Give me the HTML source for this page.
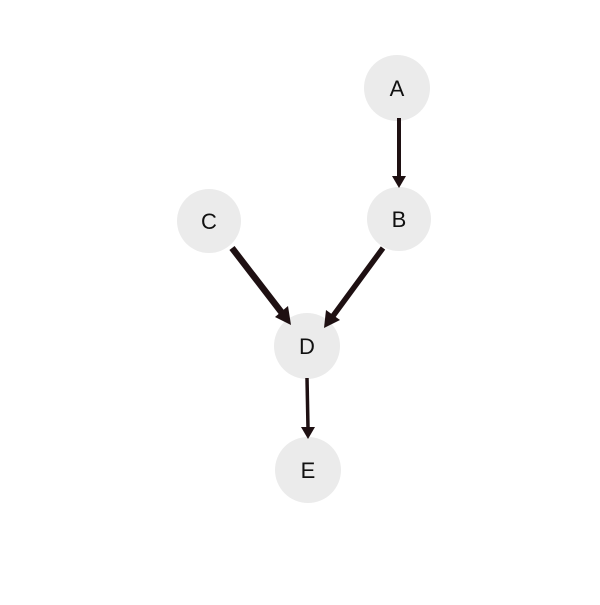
<!DOCTYPE html>
<html><head><style>body{margin:0;background:#fff}</style></head><body>
<svg width="600" height="600" xmlns="http://www.w3.org/2000/svg">
<g fill="#ebebeb">
<circle cx="397" cy="88" r="33"/>
<circle cx="399" cy="219" r="32"/>
<circle cx="209" cy="221" r="32"/>
<circle cx="307" cy="346" r="33"/>
<circle cx="308" cy="470" r="33"/>
</g>
<g stroke="#1e1012" fill="none">
<line x1="399" y1="118" x2="399" y2="178" stroke-width="4"/>
<line x1="232" y1="248" x2="282" y2="313" stroke-width="6.5"/>
<line x1="383" y1="248" x2="333" y2="316" stroke-width="5.5"/>
<line x1="307" y1="378" x2="308" y2="428" stroke-width="3.5"/>
</g>
<g fill="#1e1012">
<polygon points="399,188 392,176 406,176"/>
<polygon points="291,325 275,317 288,306"/>
<polygon points="324,328 326,310 340,320"/>
<polygon points="308,439 301,427 315,427"/>
</g>
<g font-family="Liberation Sans, sans-serif" font-size="22" text-anchor="middle" fill="#111">
<text x="397" y="96">A</text>
<text x="399" y="227">B</text>
<text x="209" y="229">C</text>
<text x="307" y="354">D</text>
<text x="308" y="478">E</text>
</g>
</svg>
</body></html>
